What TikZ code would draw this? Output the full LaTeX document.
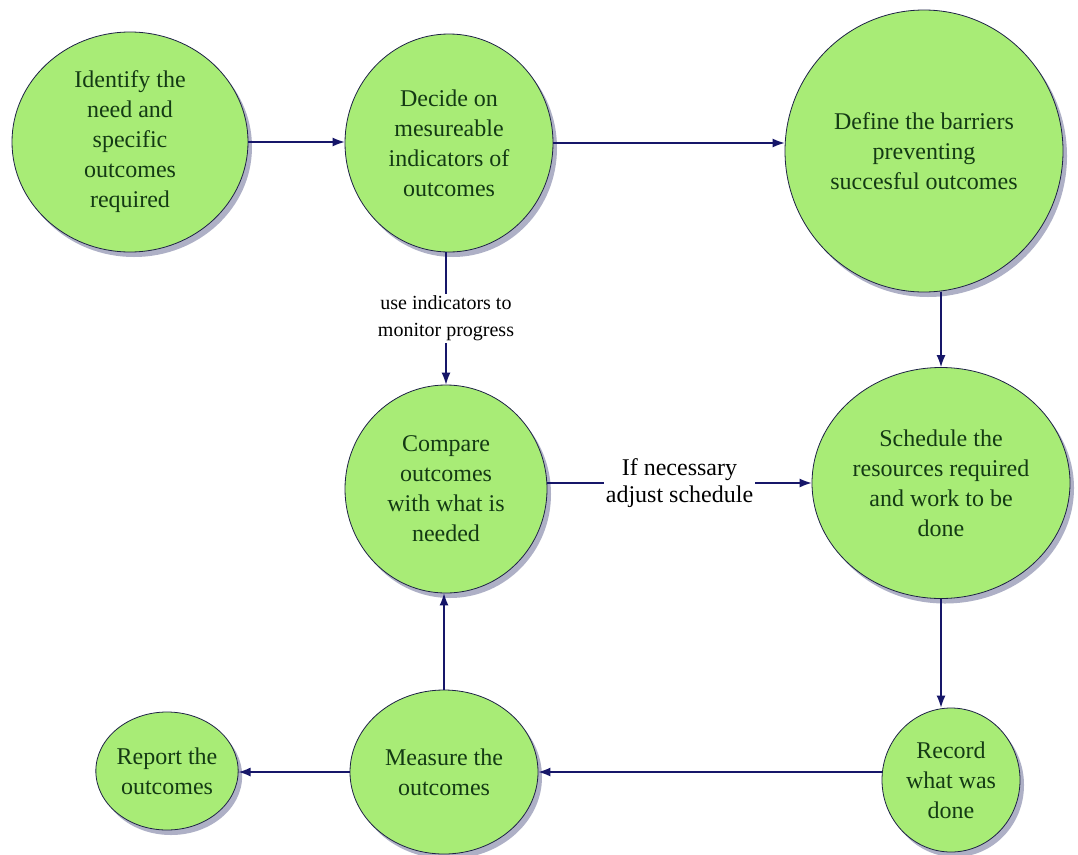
\documentclass[tikz,border=0pt]{standalone}
\usepackage{fontspec}
\IfFontExistsTF{LiberationSerif-Regular.ttf}
  {\setmainfont{LiberationSerif-Regular.ttf}}
  {\setmainfont{Liberation Serif}}
\usetikzlibrary{shapes.geometric,shadows,arrows.meta}

\definecolor{bubble}{RGB}{168,236,118}
\definecolor{rim}{RGB}{30,34,70}
\definecolor{ink}{RGB}{20,58,20}
\definecolor{navy}{RGB}{22,22,105}
\definecolor{shade}{RGB}{120,124,160}

\begin{document}
\begin{tikzpicture}[x=1pt,y=-1pt,
    stage/.style={ellipse,draw=rim,fill=bubble,thick,inner sep=0pt,
      align=center,text=ink,font=\fontsize{24}{30}\selectfont,
      drop shadow={fill=shade,shadow xshift=4pt,shadow yshift=-5pt,opacity=.6}},
    flow/.style={-{Latex[length=12pt,width=9pt]},navy,line width=1.3pt},
    tag/.style={fill=white,align=center,text=black,inner sep=2pt}]
  % Canvas
  \fill[white] (0,0) rectangle (1078,854);
  \useasboundingbox (0,0) rectangle (1078,854);
  % Stages
  \node[stage,minimum width=236pt,minimum height=220pt] (need) at (130,142)
       {Identify the\\need and\\specific\\outcomes\\required};
  \node[stage,minimum width=208pt,minimum height=218pt] (indic) at (449,143)
       {Decide on\\mesureable\\indicators of\\outcomes};
  \node[stage,minimum width=278pt,minimum height=282pt] (barr) at (924,151)
       {Define the barriers\\preventing\\succesful outcomes};
  \node[stage,minimum width=258pt,minimum height=231pt] (sched) at (941,483)
       {Schedule the\\resources required\\and work to be\\done};
  \node[stage,minimum width=202pt,minimum height=208pt] (comp) at (446,489)
       {Compare\\outcomes\\with what is\\needed};
  \node[stage,minimum width=138pt,minimum height=144pt] (rec) at (951,780)
       {Record\\what was\\done};
  \node[stage,minimum width=188pt,minimum height=164pt] (meas) at (444,772)
       {Measure the\\outcomes};
  \node[stage,minimum width=140pt,minimum height=118pt] (rep) at (167,771)
       {Report the\\outcomes};
  % Connectors
  \draw[flow] (need.east) -- (need.east -| indic.west);
  \draw[flow] (indic.east) -- (indic.east -| barr.west);
  \draw[flow] (sched.north |- barr.south) -- (sched.north);
  \draw[flow] (comp.north |- indic.south) -- node[tag,font=\fontsize{20}{27}\selectfont]
       {use indicators to\\monitor progress} (comp.north);
  \draw[flow] (sched.west -| comp.east) -- node[tag,font=\fontsize{24}{27}\selectfont]
       {If necessary\\adjust schedule} (sched.west);
  \draw[flow] (sched.south) -- (sched.south |- rec.north);
  \draw[flow] (meas.east -| rec.west) -- (meas.east);
  \draw[flow] (meas.north) -- (meas.north |- comp.south);
  \draw[flow] (meas.west) -- (meas.west -| rep.east);
\end{tikzpicture}
\end{document}
